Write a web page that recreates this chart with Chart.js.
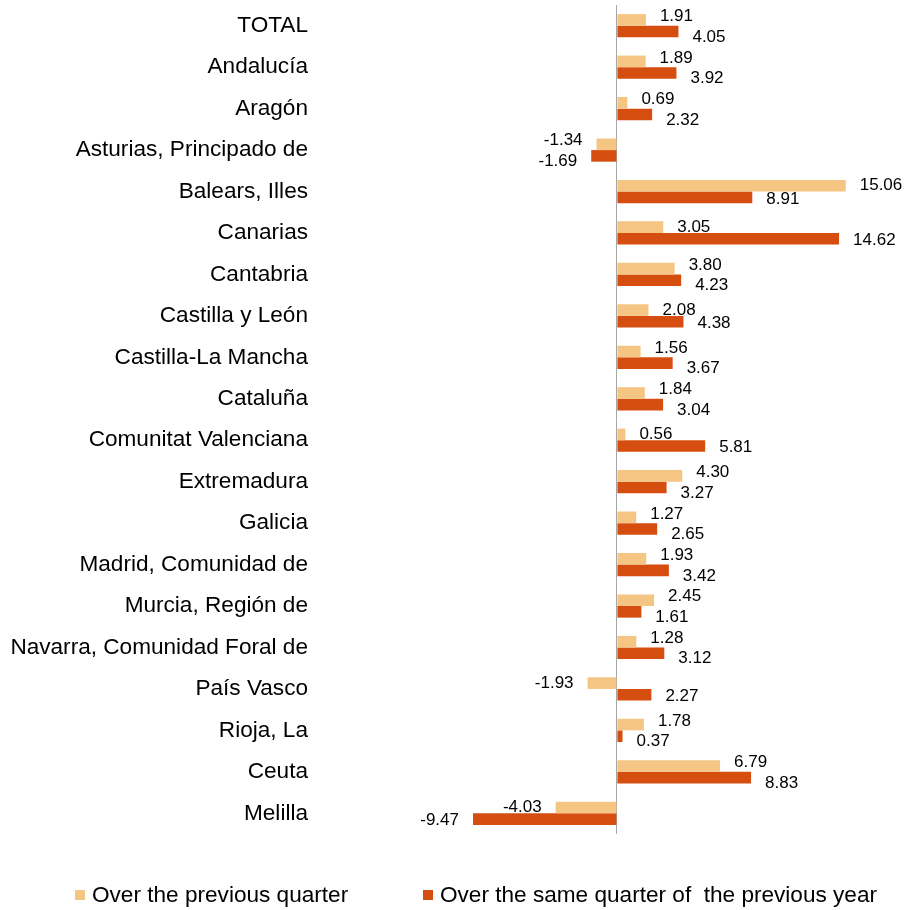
<!DOCTYPE html>
<html>
<head>
<meta charset="utf-8">
<script src="https://cdn.jsdelivr.net/npm/chart.js@4.4.1/dist/chart.umd.min.js"></script>
<style>
  html, body { margin: 0; padding: 0; background: #fff; }
  .wrap { position: relative; width: 905px; height: 910px; }
  .legend { position: absolute; top: 882px; left: 0; width: 905px; height: 26px;
            font: 22.6px 'Liberation Sans', Arial, sans-serif; color: #000; line-height: 26px; }
  .legend .item { position: absolute; top: 0; display: flex; align-items: center; white-space: pre; }
  .legend i { display: inline-block; width: 10px; height: 10px; margin-right: 7px; }
</style>
</head>
<body>
<div class="wrap">
  <canvas id="chart" width="905" height="910"></canvas>
  <div class="legend" id="legend"></div>
</div>
<script>
/* Quarterly change by region, % */
const LIGHT = '#F5C584';
const DARK = '#D64D10';
const FONT = "'Liberation Sans', Arial, sans-serif";

const REGIONS = ['TOTAL', 'Andalucía', 'Aragón', 'Asturias, Principado de', 'Balears, Illes', 'Canarias',
  'Cantabria', 'Castilla y León', 'Castilla-La Mancha', 'Cataluña', 'Comunitat Valenciana', 'Extremadura',
  'Galicia', 'Madrid, Comunidad de', 'Murcia, Región de', 'Navarra, Comunidad Foral de', 'País Vasco',
  'Rioja, La', 'Ceuta', 'Melilla'];
const PREV_QUARTER = [1.91, 1.89, 0.69, -1.34, 15.06, 3.05, 3.80, 2.08, 1.56, 1.84, 0.56, 4.30, 1.27, 1.93,
  2.45, 1.28, -1.93, 1.78, 6.79, -4.03];
const PREV_YEAR = [4.05, 3.92, 2.32, -1.69, 8.91, 14.62, 4.23, 4.38, 3.67, 3.04, 5.81, 3.27, 2.65, 3.42,
  1.61, 3.12, 2.27, 0.37, 8.83, -9.47];
const SERIES = ['Over the previous quarter', 'Over the same quarter of  the previous year'];

/* value labels just past the bar end; pushed apart when the two labels of a row collide */
const barLabels = {
  id: 'barLabels',
  afterDatasetsDraw(chart) {
    const ctx = chart.ctx;
    ctx.save();
    ctx.font = '17px ' + FONT;
    ctx.fillStyle = '#000';
    ctx.textBaseline = 'middle';
    ctx.textAlign = 'left';
    const metas = [chart.getDatasetMeta(0), chart.getDatasetMeta(1)];
    REGIONS.forEach((r, i) => {
      const items = metas.map((m, d) => {
        const v = chart.data.datasets[d].data[i];
        const bar = m.data[i];
        const txt = v.toFixed(2);
        const w = ctx.measureText(txt).width;
        return { txt, w, y: bar.y, x: v >= 0 ? bar.x + 14 : bar.x - 14 - w };
      });
      const [a, b] = items;
      const clash = a.x < b.x + b.w && b.x < a.x + a.w;
      a.y += clash ? -3.5 : 0;
      b.y += clash ? 5.5 : 1.5;
      items.forEach(t => ctx.fillText(t.txt, t.x, t.y));
    });
    ctx.restore();
  }
};

new Chart(document.getElementById('chart'), {
  type: 'bar',
  data: {
    labels: REGIONS,
    datasets: [
      { label: SERIES[0], data: PREV_QUARTER, backgroundColor: LIGHT },
      { label: SERIES[1], data: PREV_YEAR, backgroundColor: DARK }
    ]
  },
  options: {
    indexAxis: 'y',
    responsive: false,
    animation: false,
    devicePixelRatio: 1,
    datasets: { bar: { barPercentage: 1, categoryPercentage: 0.56 } },
    layout: { padding: { top: 5, bottom: 76, left: 0, right: 7 } },
    scales: {
      x: {
        min: -20, max: 18.5,
        ticks: { display: false, stepSize: 1 },
        grid: { drawTicks: false, color: c => c.tick && c.tick.value === 0 ? '#A6A6A6' : 'rgba(0,0,0,0)' },
        border: { display: false },
        afterFit: s => { s.height = 0; s.paddingLeft = 0; s.paddingRight = 0; }
      },
      y: {
        grid: { display: false, drawTicks: false },
        border: { display: false },
        ticks: { color: '#000', padding: 5, font: { family: FONT, size: 22.6 }, autoSkip: false },
        afterFit: s => { s.width = 313; s.paddingTop = 0; s.paddingBottom = 0; }
      }
    },
    plugins: { legend: { display: false }, tooltip: { enabled: false } }
  },
  plugins: [barLabels]
});

const legend = document.getElementById('legend');
[[SERIES[0], LIGHT, 75], [SERIES[1], DARK, 423]].forEach(([name, color, left]) => {
  const el = document.createElement('span');
  el.className = 'item';
  el.style.left = left + 'px';
  el.innerHTML = '<i style="background:' + color + '"></i>' + name;
  legend.appendChild(el);
});
</script>
</body>
</html>
